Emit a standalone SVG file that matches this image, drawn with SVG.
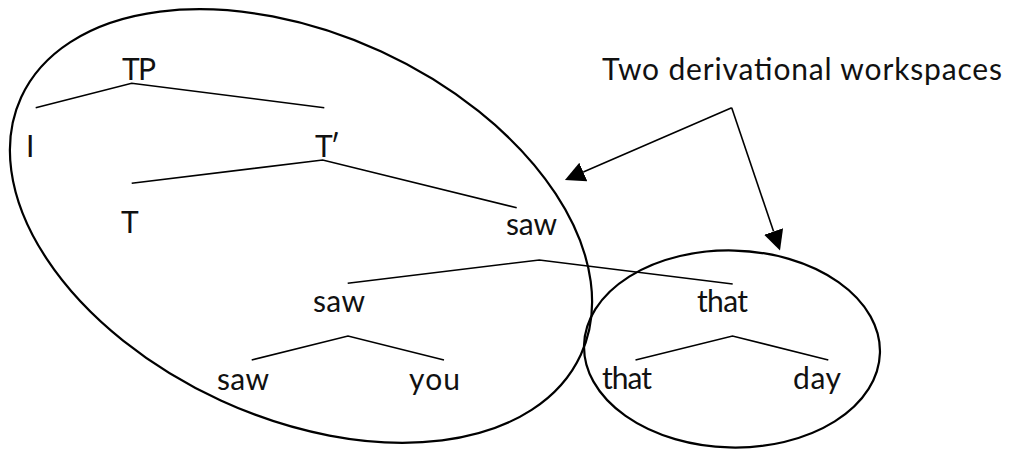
<svg xmlns="http://www.w3.org/2000/svg" width="1010" height="449" viewBox="0 0 1010 449">
<style>
  text { font-family: Lato, "Open Sans", "Liberation Sans", sans-serif; font-size: 30px; fill: #111; }
  .edge { fill: none; stroke: #000; stroke-width: 1.6; stroke-linecap: butt; stroke-linejoin: miter; }
  .ws { fill: none; stroke: #000; stroke-width: 2.2; }
  .arrow { fill: none; stroke: #000; stroke-width: 1.6; marker-end: url(#head); }
</style>
<defs>
  <marker id="head" markerUnits="userSpaceOnUse" markerWidth="21" markerHeight="21" refX="0" refY="10" orient="auto" viewBox="0 0 21 21">
    <path d="M0,0 L20,10 L0,20 Z" fill="#000"/>
  </marker>
</defs>
<rect width="1010" height="449" fill="#fff"/>

<g id="workspaces">
  <ellipse id="workspace-1" class="ws" cx="301" cy="226" rx="308" ry="192" transform="rotate(24.7 301 226)"/>
  <ellipse id="workspace-2" class="ws" cx="732" cy="349" rx="148" ry="98.5" transform="rotate(1.5 732 349)"/>
</g>

<g id="connectors">
  <polyline class="edge" points="35.7,107.7 131.7,83.3 324.3,107.7"/>
  <polyline class="edge" points="131.7,183.3 322.7,160 516.7,207.7"/>
  <polyline class="edge" points="347.7,283.3 539.3,260 732.7,284"/>
  <polyline class="edge" points="251.7,360 348,336 444,360"/>
  <polyline class="edge" points="635.5,360 732.5,336 828.3,360"/>
  <path class="arrow" d="M731.7,107.7 L583.3,172"/>
  <path class="arrow" d="M731.7,107.7 L773.6,231.5"/>
</g>

<g id="node-TP"><text x="122" y="80" textLength="34">TP</text></g>
<g id="node-I"><text x="26" y="157">I</text></g>
<g id="node-Tbar"><text x="315" y="157" textLength="25">T′</text></g>
<g id="node-T"><text x="121" y="233">T</text></g>
<g id="node-saw-1"><text x="506" y="235" textLength="51">saw</text></g>
<g id="node-saw-2"><text x="313" y="312" textLength="52">saw</text></g>
<g id="node-that-1"><text x="697" y="312" textLength="51">that</text></g>
<g id="node-saw-3"><text x="217" y="390" textLength="52">saw</text></g>
<g id="node-you"><text x="409" y="390" textLength="51">you</text></g>
<g id="node-that-2"><text x="602" y="389" textLength="50">that</text></g>
<g id="node-day"><text x="793" y="389" textLength="48">day</text></g>
<g id="label"><text x="602" y="80" textLength="400">Two derivational workspaces</text></g>
</svg>
